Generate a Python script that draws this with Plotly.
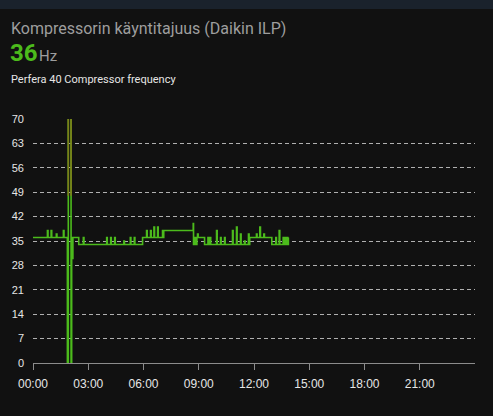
import plotly.graph_objects as go

# ── Data ──────────────────────────────────────────────────────────────────────
day = "2024-01-01"

# step points (start time, value)
times = [
    "00:00", "00:47", "00:49", "00:59", "01:01", "01:16", "01:18", "01:39", "01:41",
    "01:52", "01:55", "02:04", "02:06", "02:09", "02:10", "02:29", "02:44", "02:46",
    "04:00", "04:02", "04:13", "04:15", "04:26", "04:28", "04:56", "04:58",
    "05:17", "05:19", "05:30", "05:32", "05:57",
    "06:10", "06:12", "06:23", "06:25", "06:34", "06:36", "06:46", "06:48",
    "07:02", "07:04", "07:06",
    "08:42", "08:43", "08:44", "08:45", "08:46", "08:47", "08:48", "08:49",
    "08:50", "08:51", "08:52", "08:53", "08:54", "08:56", "08:58", "09:19",
    "09:30", "09:32", "09:37", "09:39", "09:58", "10:00", "10:11", "10:13",
    "10:24", "10:26", "10:50", "10:52", "11:03", "11:05", "11:16", "11:18",
    "11:29", "11:31", "11:42", "11:44", "11:46",
    "12:08", "12:10", "12:19", "12:21", "12:32", "12:34", "12:58",
    "13:11", "13:13", "13:22", "13:24",
    "13:35", "13:36", "13:37", "13:38", "13:39", "13:40", "13:41", "13:42",
    "13:43", "13:44", "13:45", "13:46", "13:47", "13:48", "13:49", "13:50", "13:52",
]
values = [
    36, 38, 36, 38, 36, 37, 36, 38, 36,
    0, 80, 0, 36, 30, 36, 34, 36, 34,
    36, 34, 36, 34, 36, 34, 35, 34,
    36, 34, 36, 34, 36,
    38, 36, 38, 36, 39, 36, 39, 36,
    38, 36, 38,
    40, 34, 36, 34, 36, 34, 36, 34,
    36, 34, 36, 34, 36, 37, 36, 34,
    36, 34, 36, 34, 38, 34, 36, 34,
    36, 34, 38, 34, 39, 34, 37, 34,
    35, 34, 37, 34, 36,
    37, 36, 39, 36, 37, 36, 34,
    36, 34, 38, 34,
    36, 34, 36, 34, 36, 34, 36, 34,
    36, 34, 36, 34, 36, 34, 36, 34, 36,
]

# top part of the start-up spike, drawn in the high-value colour
spike_times = ["01:55", "01:55", "02:04", "02:04"]
spike_values = [48, 80, 80, 48]

y_ticks = [0, 7, 14, 21, 28, 35, 42, 49, 56, 63, 70]
x_ticks = ["00:00", "03:00", "06:00", "09:00", "12:00", "15:00", "18:00", "21:00"]

title = "Kompressorin käyntitajuus (Daikin ILP)"
state = "36"
unit = "Hz"
entity_name = "Perfera 40 Compressor frequency"

GREEN = "#4cbb1c"
OLIVE = "#7f7e1a"
BG = "#111111"

# ── Figure ────────────────────────────────────────────────────────────────────
W, H = 493, 416
ml, mr, mt, mb = 33, 18, 119, 53
ph = H - mt - mb


def py(px):
    # pixel row from the top -> paper y
    return 1 + (mt - px) / ph


def px_(px):
    return (px - ml) / (W - ml - mr)


fig = go.Figure()

fig.add_trace(go.Scatter(
    x=[f"{day} {t}" for t in times],
    y=values,
    mode="lines",
    line=dict(color=GREEN, width=1.6, shape="hv"),
    hoverinfo="skip",
    showlegend=False,
))

fig.add_trace(go.Scatter(
    x=[f"{day} {t}" for t in spike_times],
    y=spike_values,
    mode="lines",
    line=dict(color=OLIVE, width=1.6),
    hoverinfo="skip",
    showlegend=False,
))

# top strip of the page
fig.add_shape(type="rect", xref="paper", yref="paper",
              x0=px_(0), x1=px_(W), y0=py(9), y1=py(0),
              fillcolor="#1a222c", line=dict(width=0), layer="above")

fig.add_annotation(xref="paper", yref="paper", x=px_(9), y=py(29),
                   text=title, showarrow=False, xanchor="left", yanchor="middle",
                   font=dict(family="Roboto", size=16, color="#9e9e9e"))
fig.add_annotation(xref="paper", yref="paper", x=px_(8), y=py(53),
                   text="<b>" + state + "</b>", showarrow=False, xanchor="left", yanchor="middle",
                   font=dict(family="Roboto", size=24, color=GREEN))
fig.add_annotation(xref="paper", yref="paper", x=px_(37), y=py(56),
                   text=unit, showarrow=False, xanchor="left", yanchor="middle",
                   font=dict(family="Roboto", size=15, color="#9e9e9e"))
fig.add_annotation(xref="paper", yref="paper", x=px_(9), y=py(79),
                   text=entity_name, showarrow=False, xanchor="left", yanchor="middle",
                   font=dict(family="Roboto", size=11, color="#e6e6e6"))

fig.update_layout(
    width=W, height=H,
    margin=dict(l=ml, r=mr, t=mt, b=mb),
    paper_bgcolor=BG, plot_bgcolor=BG,
    font=dict(family="Roboto", color="#e0e0e0"),
    xaxis=dict(
        type="date",
        range=[f"{day} 00:00", "2024-01-02 00:00"],
        tickvals=[f"{day} {t}" for t in x_ticks],
        ticktext=x_ticks,
        showgrid=False, zeroline=False,
        showline=True, linecolor="#8c8c8c", linewidth=1,
        ticks="outside", ticklen=6, tickcolor="#8c8c8c",
        ticklabelstandoff=4,
        tickfont=dict(family="Liberation Sans", size=12, color="#e6e6e6"),
    ),
    yaxis=dict(
        range=[0, 70],
        tickvals=y_ticks,
        showgrid=True, gridcolor="#b0b0b0", griddash="4px,3px", gridwidth=1,
        zeroline=False, showline=False,
        ticks="", ticklabelstandoff=8,
        tickfont=dict(family="Liberation Sans", size=11, color="#e6e6e6"),
    ),
)

fig.write_html(
    "out.html",
    config={"displayModeBar": False},
    post_script="document.body.style.margin='0';document.body.style.background='#111111';",
)
